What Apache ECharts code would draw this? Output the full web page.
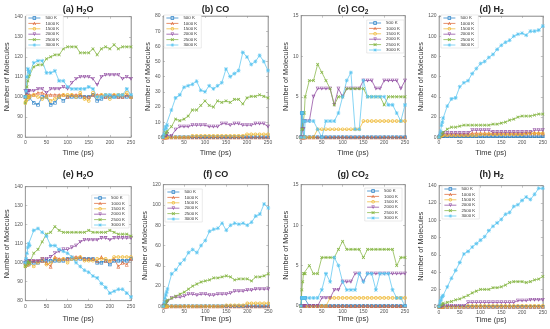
<!DOCTYPE html>
<html><head><meta charset="utf-8">
<script src="https://cdn.jsdelivr.net/npm/echarts@6/dist/echarts.min.js"></script>
<style>html,body{margin:0;padding:0;background:#fff}#c{width:550px;height:329px}</style>
</head><body><div id="c"></div>
<script>
// ---- data ----
const times = [0,2,4,6,8,10,20,30,40,50,60,70,80,90,100,110,120,130,140,150,160,170,180,190,200,210,220,230,240,250];
const temps = ['500 K','1000 K','1500 K','2000 K','2500 K','3000 K'];
const panelTitles = ['(a) H{s|2}O','(b) CO','(c) CO{s|2}','(d) H{s|2}','(e) H{s|2}O','(f) CO','(g) CO{s|2}','(h) H{s|2}'];
const xTicks = [0,50,100,150,200,250];
const yMins = [80,0,0,0,80,0,0,0];
const yMaxs = [140,80,15,120,140,120,15,140];
const yIntervals = [10,10,5,20,10,20,5,20];

const aH2O = [
 [100,100,101,99,100,100,97,96,100,100,96,97,100,98,100,100,100,100,100,100,101,98,99,100,100,100,100,100,100,100],
 [100,101,100,101,100,101,101,102,102,101,101,101,101,101,100,101,101,101,100,100,101,101,101,100,101,101,100,100,101,100],
 [97,98,99,100,100,100,101,100,99,100,98,99,100,101,101,101,100,102,99,98,102,100,101,101,99,101,101,101,102,100],
 [103,103,102,103,103,103,103,104,104,102,104,104,104,105,104,107,109,110,110,110,109,106,110,111,111,111,111,109,110,109],
 [97,100,105,108,110,111,115,116,116,119,120,121,121,124,125,125,125,122,122,122,124,121,124,125,124,126,124,125,125,125],
 [100,103,110,114,113,112,117,118,118,112,112,113,108,108,105,104,104,104,104,105,104,100,100,101,101,100,101,101,104,101]
];
const bCO = [
 [0,0,0,0,0,0,0,0,0,0,0,0,0,0,0,0,0,0,0,0,0,0,0,0,0,0,0,0,0,0],
 [0,0,0,0,0,0,0,0,0,0,0,0,0,0,0,0,0,0,0,0,0,0,0,0,0,0,0,0,0,0],
 [0,0,0,0,0,0,0,0,0,0,0,1,1,1,1,1,1,1,1,1,1,1,1,1,2,2,2,2,2,2],
 [0,0,1,1,1,2,1,5,7,7,7,8,8,8,8,7,7,7,9,9,8,9,9,8,8,8,9,9,9,7],
 [0,1,2,3,3,4,7,12,11,12,14,18,18,21,24,21,20,24,23,24,23,25,25,22,26,27,27,28,27,26],
 [0,2,5,7,6,8,18,26,28,33,34,35,37,31,30,34,32,34,36,45,40,42,44,56,53,48,50,54,50,44]
];
const cCO2 = [
 [0,3,3,0,0,0,0,0,0,0,0,0,0,0,0,0,0,0,0,0,0,0,0,0,0,0,0,0,0,0],
 [0,0,0,0,0,0,0,0,0,0,0,0,0,0,0,0,0,0,0,0,0,0,0,0,0,0,0,0,0,0],
 [0,0,0,0,0,0,0,0,1,1,1,1,1,1,1,1,1,1,1,2,2,2,2,2,2,2,2,2,2,2],
 [0,0,1,1,2,2,2,5,6,6,6,6,4,6,5,6,6,6,6,7,7,7,6,6,7,7,7,7,6,7],
 [0,1,1,2,3,5,7,7,9,8,7,6,4,5,5,6,6,6,6,6,5,5,5,5,4,5,5,5,5,5],
 [0,3,3,2,0,2,2,2,1,0,2,2,2,3,5,7,8,1,1,7,5,5,5,5,5,4,4,3,2,4]
];
const dH2 = [
 [0,1,1,1,1,1,1,1,1,1,1,1,1,1,1,1,1,1,1,1,1,1,1,1,1,1,1,1,1,1],
 [0,1,2,2,3,3,3,3,3,3,3,3,4,4,4,4,4,4,4,4,4,4,4,4,4,4,4,4,4,4],
 [0,1,1,2,2,2,2,2,2,2,2,2,2,2,3,3,3,3,3,3,3,3,3,3,3,4,4,4,4,4],
 [0,1,2,3,3,4,4,4,4,4,4,4,7,7,7,7,7,5,5,5,5,5,5,5,5,5,5,7,7,7],
 [0,1,2,3,4,5,8,10,10,11,12,12,12,12,12,12,12,13,13,14,15,17,18,20,21,21,21,22,23,23],
 [0,3,6,12,15,19,31,38,39,50,54,56,63,68,73,75,79,82,87,91,94,96,100,102,103,101,105,105,106,110]
];
const eH2O = [
 [100,99,100,100,99,100,100,100,101,101,101,101,101,101,102,102,102,102,102,102,102,100,100,101,99,101,101,101,101,102],
 [100,100,99,101,100,101,101,101,101,100,98,103,102,102,102,103,103,103,102,102,102,101,103,101,101,102,98,100,99,102],
 [98,99,100,101,99,100,98,100,102,99,100,102,101,102,100,102,102,103,101,101,101,102,102,102,101,103,103,103,103,103],
 [100,101,100,100,101,101,101,101,102,102,103,105,106,107,107,108,109,111,112,112,112,112,113,113,112,113,113,113,113,113],
 [98,99,100,101,100,100,105,107,111,115,116,119,117,116,116,116,116,116,116,117,116,116,116,116,117,116,115,115,115,114],
 [100,102,105,108,110,109,117,118,116,114,109,109,107,106,105,103,100,98,96,95,93,92,89,87,84,85,86,86,84,82]
];
const fCO = [
 [0,0,0,0,0,0,0,0,0,0,0,0,0,0,0,0,0,0,0,0,0,0,0,0,0,0,0,0,0,0],
 [0,0,0,0,0,0,0,0,0,0,0,0,0,0,0,0,0,0,0,0,0,0,0,0,0,0,0,0,0,0],
 [0,0,0,0,0,0,0,0,0,0,0,0,0,0,0,0,0,0,0,1,1,1,1,1,3,3,3,3,3,3],
 [0,1,2,3,4,5,8,9,9,10,12,12,11,12,12,11,11,12,12,12,13,15,15,15,16,16,17,17,17,17],
 [0,1,2,4,5,6,8,10,12,14,17,20,22,24,25,26,28,28,29,30,29,26,27,27,27,25,29,29,30,32],
 [0,4,8,11,14,17,32,36,42,46,53,56,53,60,65,74,76,77,82,75,80,82,81,82,80,83,89,91,101,97]
];
const gCO2 = [
 [0,1,1,1,1,1,0,0,0,0,0,0,0,0,0,0,0,0,0,0,0,0,0,0,0,0,0,0,0,0],
 [0,0,0,0,0,0,0,0,0,0,0,0,0,0,0,0,0,0,0,0,0,0,0,0,0,0,0,0,0,0],
 [0,0,0,0,0,0,0,0,0,0,0,1,1,1,1,1,1,1,1,1,1,1,1,1,1,1,1,1,1,1],
 [0,0,0,0,0,0,0,0,0,1,1,1,2,2,3,3,3,4,4,3,4,4,4,4,4,4,4,4,4,4],
 [0,2,3,4,4,4,5,4,4,6,6,6,6,7,8,7,7,7,7,6,7,7,7,7,7,7,7,5,6,6],
 [0,1,1,1,1,1,1,1,1,2,4,3,6,5,3,2,2,2,4,3,4,4,2,4,4,4,2,1,1,0]
];
const hH2 = [
 [0,0,0,0,0,0,0,0,0,0,0,0,0,0,0,0,0,0,0,0,0,0,0,0,0,0,0,0,0,0],
 [0,0,0,0,0,0,0,0,0,0,0,0,0,0,0,0,0,0,0,0,0,0,0,0,0,0,0,0,0,0],
 [0,0,0,0,0,0,0,0,0,0,0,1,1,1,1,1,1,1,1,1,1,1,1,1,1,1,1,1,1,1],
 [0,0,0,0,1,1,1,1,1,1,1,5,5,5,5,5,5,5,5,5,5,5,5,7,7,7,8,8,8,8],
 [0,1,2,2,3,4,5,6,8,9,11,13,16,18,20,20,20,22,22,23,25,28,29,29,29,28,29,31,32,35],
 [0,4,7,10,12,13,23,33,42,51,61,64,69,73,77,81,88,93,97,101,107,109,116,118,123,127,124,130,137,137]
];

// ---- layout & style ----
const panels = [aH2O,bCO,cCO2,dH2,eH2O,fCO,gCO2,hH2];
const COLORS = ['#2a80c6','#de6a3a','#efb936','#8f4aa0','#86b645','#5cc5f0'];
// hollow ring shapes (outer + reversed inner) and thin cross/asterisk
const SYMS = [
 'path://M0,0H10V10H0Z M2,2V8H8V2Z',
 'path://M5,0L10,10L0,10Z M5,3.6L2.3,8.6L7.7,8.6Z',
 'path://M0,5A5,5 0 1,1 10,5A5,5 0 1,1 0,5Z M2,5A3,3 0 1,0 8,5A3,3 0 1,0 2,5Z',
 'path://M0,0H10L5,10Z M2.3,1.4L5,6.4L7.7,1.4Z',
 'path://M0,1.6L1.6,0L5,3.4L8.4,0L10,1.6L6.6,5L10,8.4L8.4,10L5,6.6L1.6,10L0,8.4L3.4,5Z',
 'path://M4.3,0H5.7V10H4.3Z M0,4.3H10V5.7H0Z M0.5,1.5L1.5,0.5L5,4L8.5,0.5L9.5,1.5L6,5L9.5,8.5L8.5,9.5L5,6L1.5,9.5L0.5,8.5L4,5Z'
];
const SYMSIZE = [3.4,3.8,3.6,3.8,3.3,4];
const GRIDS = [
 [25.3,16.7,105.7,120.3],[163,16,105,121.3],[301,15.7,104,121.6],[439,16,105,121.3],
 [25.3,186.7,105.7,114],[163.3,184.7,105,121.6],[301,184.7,104,121.3],[439,185.7,105,121]
];
const YNAMEX = [10,149,288.7,424,10,150,288.7,424];
const XNAMEY = [152.8,152.8,152.8,152.8,319,319,319,319];
const TITLEY = [10,10,10,10,175,175,175,175];
const LEGENDPOS = [
 {left:26,top:15},{left:164,top:15},{right:146,top:20},{left:441,top:15},
 {right:421,top:195},{left:165,top:189},{right:148,top:188},{left:442,top:186}
];
const FONT = 'Liberation Sans, Arial, sans-serif';
const AX = '#8a8a8a';

const grid=[], xAxis=[], yAxis=[], legend=[], series=[], graphic=[];
const tickStyle = {show:true,inside:true,length:2,lineStyle:{color:AX,width:0.5}};
GRIDS.forEach((g,i)=>{
  grid.push({left:g[0],top:g[1],width:g[2],height:g[3],show:true,borderColor:AX,borderWidth:0.6,backgroundColor:'#fff',containLabel:false});
  xAxis.push({type:'value',gridIndex:i,min:0,max:250,interval:50,
    axisLine:{show:true,onZero:false,lineStyle:{color:AX,width:0.6}},
    axisTick:tickStyle,
    axisLabel:{fontSize:5,color:'#555',margin:3,fontFamily:FONT},
    splitLine:{show:false},
    name:'Time (ps)',nameLocation:'middle',nameGap:XNAMEY[i]-(g[1]+g[3])-3.8,
    nameTextStyle:{fontSize:7.5,color:'#333',fontFamily:FONT}});
  yAxis.push({type:'value',gridIndex:i,min:yMins[i],max:yMaxs[i],interval:yIntervals[i],
    axisLine:{show:true,onZero:false,lineStyle:{color:AX,width:0.6}},
    axisTick:tickStyle,
    axisLabel:{fontSize:5,color:'#555',margin:2.5,fontFamily:FONT},
    splitLine:{show:false},
    name:'Number of Molecules',nameLocation:'middle',nameRotate:90,nameGap:g[0]-YNAMEX[i]-3.7,
    nameTextStyle:{fontSize:7.3,color:'#333',fontFamily:FONT}});
  legend.push(Object.assign({orient:'vertical',data:temps.slice(),itemWidth:12,itemHeight:4.3,itemGap:1.4,
    padding:[1,4,1,2],backgroundColor:'#fff',borderColor:'#d4d4d4',borderWidth:0.5,
    lineStyle:{width:0.75},itemStyle:{borderWidth:0},
    textStyle:{fontSize:4.4,color:'#333',fontFamily:FONT},selectedMode:false},LEGENDPOS[i]));
  graphic.push({type:'text',x:g[0]+g[2]/2,y:TITLEY[i],z:100,
    style:{text:panelTitles[i],align:'center',verticalAlign:'middle',fontSize:9,fontWeight:'bold',
      fontFamily:FONT,fill:'#222',lineHeight:12,
      rich:{s:{fontSize:6.5,fontWeight:'bold',fontFamily:FONT,fill:'#222',verticalAlign:'bottom',lineHeight:7}}}});
});
// mirrored box ticks on top and right (no labels)
GRIDS.forEach((g,i)=>{
  xAxis.push({type:'value',gridIndex:i,position:'top',min:0,max:250,interval:50,
    axisLine:{show:true,onZero:false,lineStyle:{color:AX,width:0.6}},axisTick:tickStyle,
    axisLabel:{show:false},splitLine:{show:false}});
  yAxis.push({type:'value',gridIndex:i,position:'right',min:yMins[i],max:yMaxs[i],interval:yIntervals[i],
    axisLine:{show:true,onZero:false,lineStyle:{color:AX,width:0.6}},axisTick:tickStyle,
    axisLabel:{show:false},splitLine:{show:false}});
});
panels.forEach((pd,gi)=>{
  pd.forEach((vals,si)=>{
    series.push({type:'line',name:temps[si],xAxisIndex:gi,yAxisIndex:gi,
      data:times.map((t,k)=>[t,vals[k]]),
      symbol:SYMS[si],symbolSize:SYMSIZE[si],symbolKeepAspect:true,
      showSymbol:true,showAllSymbol:true,
      lineStyle:{color:COLORS[si],width:0.75},
      itemStyle:{color:COLORS[si],borderWidth:0},
      emphasis:{disabled:true},silent:true,animation:false});
  });
});

const chart = echarts.init(document.getElementById('c'),null,{renderer:'canvas'});
chart.setOption({animation:false,backgroundColor:'#fff',grid,xAxis,yAxis,legend,series,graphic});
</script></body></html>
